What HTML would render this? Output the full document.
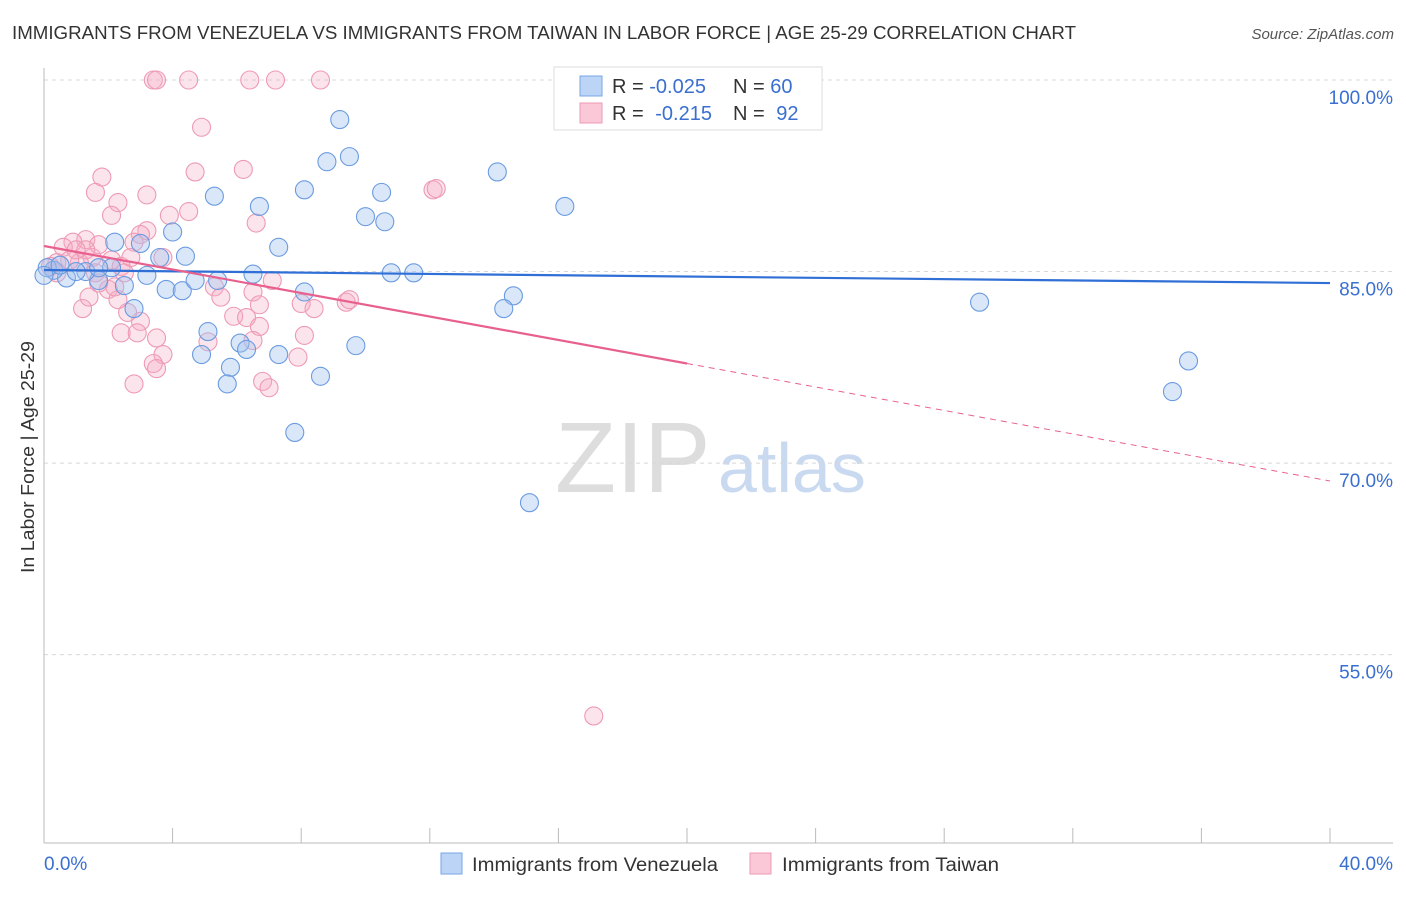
<!DOCTYPE html>
<html><head><meta charset="utf-8"><style>
body{margin:0;background:#fff;width:1406px;height:892px;overflow:hidden;font-family:"Liberation Sans",sans-serif}
svg text{font-family:"Liberation Sans",sans-serif}
</style></head><body>
<svg id="chart" width="1406" height="892" xmlns="http://www.w3.org/2000/svg">
<text x="12" y="39" font-size="18" fill="#333" textLength="1064" lengthAdjust="spacingAndGlyphs">IMMIGRANTS FROM VENEZUELA VS IMMIGRANTS FROM TAIWAN IN LABOR FORCE | AGE 25-29 CORRELATION CHART</text>
<text x="1394" y="39" font-size="15" fill="#555" font-style="italic" text-anchor="end">Source: ZipAtlas.com</text>
<text x="555" y="492" font-size="100" fill="#ddd" font-family="Liberation Serif">ZIP</text>
<text x="718" y="492" font-size="70" fill="#c9d9f0">atlas</text>
<text transform="translate(34,457) rotate(-90)" font-size="18" fill="#333" text-anchor="middle" textLength="232" lengthAdjust="spacingAndGlyphs">In Labor Force | Age 25-29</text>
<g id="grid"></g><g id="axes"></g><g id="pts"></g><g id="lines"></g>
<g>
<rect x="554" y="67" width="268" height="63" fill="#fff" stroke="#ddd"/>
<rect x="580" y="76" width="22" height="20" fill="#bcd4f6" stroke="#7aa6e6"/>
<rect x="580" y="103" width="22" height="20" fill="#fac8d6" stroke="#ee9ab4"/>
<text x="612" y="93" font-size="20" fill="#333">R = <tspan fill="#3a6fd0">-0.025</tspan></text>
<text x="733" y="93" font-size="20" fill="#333">N = <tspan fill="#3a6fd0">60</tspan></text>
<text x="612" y="120" font-size="20" fill="#333">R = <tspan fill="#3a6fd0" dx="6">-0.215</tspan></text>
<text x="733" y="120" font-size="20" fill="#333">N = <tspan fill="#3a6fd0" dx="6">92</tspan></text>
</g>
<g>
<rect x="441" y="853" width="21" height="21" fill="#bcd4f6" stroke="#7aa6e6"/>
<text x="472" y="871" font-size="19" fill="#333" textLength="246" lengthAdjust="spacingAndGlyphs">Immigrants from Venezuela</text>
<rect x="750" y="853" width="21" height="21" fill="#fac8d6" stroke="#ee9ab4"/>
<text x="782" y="871" font-size="19" fill="#333" textLength="217" lengthAdjust="spacingAndGlyphs">Immigrants from Taiwan</text>
</g>
</svg>
<script>
const yTicks=[55,70,85,100];
const yTickLabels=["55.0%","70.0%","85.0%","100.0%"];
const xTicks=[0,4,8,12,16,20,24,28,32,36,40];
const blueX=[9.2,9.5,8.8,8.1,10.5,5.3,6.7,10.0,10.6,14.1,16.2,21.3,2.2,4.0,7.3,4.4,3.6,3.0,3.2,1.7,0.7,0.3,0.1,0.0,2.1,2.5,3.8,4.3,4.7,5.4,6.5,8.1,10.8,11.5,14.6,14.3,29.1,2.8,5.1,6.1,6.3,4.9,7.3,9.7,5.8,5.7,8.6,7.8,15.1,35.6,35.1,1.3,0.5,1.0,1.7];
const blueY=[96.9,94.0,93.6,91.4,91.2,90.9,90.1,89.3,88.9,92.8,90.1,100.0,87.3,88.1,86.9,86.2,86.1,87.2,84.7,84.3,84.5,85.1,85.3,84.7,85.3,83.9,83.6,83.5,84.3,84.3,84.8,83.4,84.9,84.9,83.1,82.1,82.6,82.1,80.3,79.4,78.9,78.5,78.5,79.2,77.5,76.2,76.8,72.4,66.9,78.0,75.6,85.0,85.5,85.0,85.3];
const pinkX=[3.4,3.5,4.5,6.4,7.2,8.6,1.8,1.6,2.3,2.1,3.2,3.9,4.5,4.7,4.9,6.2,6.6,3.2,3.0,2.8,1.3,0.9,0.6,1.5,2.1,3.7,7.1,5.3,5.5,6.5,6.7,8.0,8.4,9.4,9.5,5.9,6.3,6.7,8.1,7.9,6.5,5.1,3.5,3.0,2.6,2.4,2.9,3.7,3.4,3.5,2.8,6.8,7.0,1.2,1.4,2.0,2.3,1.6,2.4,2.5,2.2,1.7,1.1,0.8,0.4,0.4,0.2,2.7,1.7,1.3,1.0,17.1,12.1,12.2];
const pinkY=[100,100,100,100,100,100,92.4,91.2,90.4,89.4,91.0,89.4,89.7,92.8,96.3,93.0,88.8,88.2,87.9,87.3,87.5,87.3,86.9,86.1,85.9,86.1,84.3,83.8,83.0,83.4,82.4,82.5,82.1,82.6,82.8,81.5,81.4,80.7,80.0,78.3,79.6,79.5,79.8,81.1,81.8,80.2,80.2,78.5,77.8,77.4,76.2,76.4,75.9,82.1,83.0,83.6,82.8,84.9,85.4,84.9,83.8,84.1,85.7,85.9,85.7,84.9,85.4,86.1,87.1,86.7,86.7,50.2,91.4,91.5];
const blueLine=[85.12,84.1];
const pinkLine=[87.0,68.6];
const pinkSolidEnd=20;
const X=v=>44+v/40*1286;
const Y=v=>80+(100-v)*12.77;
const NS="http://www.w3.org/2000/svg";
function mk(p,t,a){const e=document.createElementNS(NS,t);for(const k in a)e.setAttribute(k,a[k]);p.appendChild(e);return e;}
const grid=document.getElementById('grid'),axes=document.getElementById('axes'),pts=document.getElementById('pts'),lines=document.getElementById('lines');
yTicks.forEach((t,i)=>{
 const l=mk(grid,'line',{x1:44,x2:1393,y1:Y(t),y2:Y(t),stroke:'#d8d8d8','stroke-dasharray':'4,4'});
 
 
 const tx=mk(axes,'text',{x:1393,y:Y(t)+24,'font-size':19,fill:'#3a6fd0','text-anchor':'end'});
 tx.textContent=yTickLabels[i];
 
 
});
const ya=mk(axes,'line',{x1:44,x2:44,y1:68,y2:843,stroke:'#bbb'});


const xa=mk(axes,'line',{x1:44,x2:1393,y1:843,y2:843,stroke:'#bbb'});


xTicks.forEach(t=>{
 const l=mk(axes,'line',{x1:X(t),x2:X(t),y1:828,y2:843,stroke:'#bbb'});
 
 
});
const x0=mk(axes,'text',{x:44,y:870,'font-size':19,fill:'#3a6fd0'});x0.textContent='0.0%';


const x1=mk(axes,'text',{x:1393,y:870,'font-size':19,fill:'#3a6fd0','text-anchor':'end'});x1.textContent='40.0%';


pinkX.forEach((v,i)=>{
 const c=mk(pts,'circle',{cx:X(v),cy:Y(pinkY[i]),r:9,fill:'rgba(245,170,195,0.32)',stroke:'#ee9ab4','stroke-width':1.1});
 
 
});
blueX.forEach((v,i)=>{
 const c=mk(pts,'circle',{cx:X(v),cy:Y(blueY[i]),r:9,fill:'rgba(160,196,240,0.4)',stroke:'#6b9be0','stroke-width':1.1});
 
 
});
const bl=mk(lines,'line',{x1:X(0),y1:Y(blueLine[0]),x2:X(40),y2:Y(blueLine[1]),stroke:'#2f6fd6','stroke-width':2.2});


const pm=pinkLine[0]+(pinkLine[1]-pinkLine[0])*pinkSolidEnd/40;
const pl=mk(lines,'line',{x1:X(0),y1:Y(pinkLine[0]),x2:X(pinkSolidEnd),y2:Y(pm),stroke:'#e8608e','stroke-width':2.2});


const pd=mk(lines,'line',{x1:X(pinkSolidEnd),y1:Y(pm),x2:X(40),y2:Y(pinkLine[1]),stroke:'#e8608e','stroke-width':1,'stroke-dasharray':'6,5'});


</script>
</body></html>
